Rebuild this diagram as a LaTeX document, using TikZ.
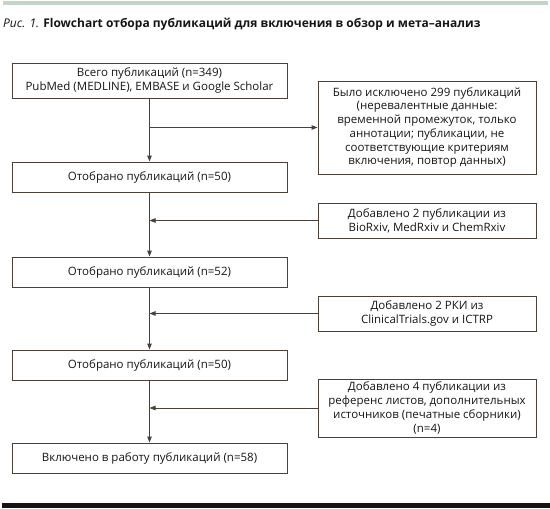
\documentclass[tikz,border=0pt]{standalone}
\usepackage{fontspec}
\setmainfont{Open Sans}
\usetikzlibrary{arrows.meta}
\definecolor{lc}{HTML}{4A4238}
\definecolor{barg}{HTML}{C3D5C5}
\definecolor{barb}{HTML}{1A1210}
\definecolor{tc}{HTML}{151515}
\begin{document}
\begin{tikzpicture}[x=1pt,y=-1pt,
  box/.style={draw=lc, line width=0.9pt, inner sep=0pt, align=center, text=tc,
    font=\fontsize{11.5}{13.7}\selectfont},
  lbox/.style={box, minimum width=275pt},
  rbox/.style={box, minimum width=218pt},
  arr/.style={draw=lc, line width=0.9pt, -{Triangle[length=6pt,width=4.5pt]}},
  ln/.style={draw=lc, line width=0.9pt}]
\useasboundingbox (0,0) rectangle (550,509);
\fill[barg] (3,1) rectangle (548,5);
\node[anchor=base west, inner sep=0pt, text=tc, font=\fontsize{12}{14}\selectfont] (title) at (3,27)
  {\textit{Рис. 1.} \textbf{Flowchart отбора публикаций для включения в обзор и мета–анализ}};

\node[lbox, minimum height=35pt] (b1) at (149.5,80.5) {Всего публикаций (n=349)\\PubMed (MEDLINE), EMBASE и Google Scholar};
\node[rbox, minimum height=93pt] (ex) at (427,127.5) {Было исключено 299 публикаций\\(неревалентные данные:\\временной промежуток, только\\аннотации; публикации, не\\соответствующие критериям\\включения, повтор данных)};
\node[lbox, minimum height=30pt] (b2) at (149.5,177) {Отобрано публикаций (n=50)};
\node[rbox, minimum height=35pt] (r2) at (427,220.5) {Добавлено 2 публикации из\\BioRxiv, MedRxiv и ChemRxiv};
\node[lbox, minimum height=30pt] (b3) at (149.5,272) {Отобрано публикаций (n=52)};
\node[rbox, minimum height=35pt] (r3) at (427,313.5) {Добавлено 2 РКИ из\\ClinicalTrials.gov и ICTRP};
\node[lbox, minimum height=30pt] (b4) at (149.5,365) {Отобрано публикаций (n=50)};
\node[rbox, minimum height=58pt] (r4) at (427,408) {Добавлено 4 публикации из\\референс листов, дополнительных\\источников (печатные сборники)\\(n=4)};
\node[lbox, minimum height=30pt] (b5) at (149.5,458) {Включено в работу публикаций (n=58)};

\coordinate (j1) at (b1.south |- ex.west);
\draw[arr] (b1.south) -- (b2.north);
\draw[arr] (j1) -- (ex.west);
\draw[arr] (b2.south) -- (b3.north);
\draw[arr] (r2.west) -- (r2.west -| b2.south);
\draw[arr] (b3.south) -- (b4.north);
\draw[arr] (r3.west) -- (r3.west -| b3.south);
\draw[arr] (b4.south) -- (b5.north);
\draw[arr] (r4.west) -- (r4.west -| b4.south);

\fill[barb] (2,503) rectangle (550,508);
\end{tikzpicture}
\end{document}
